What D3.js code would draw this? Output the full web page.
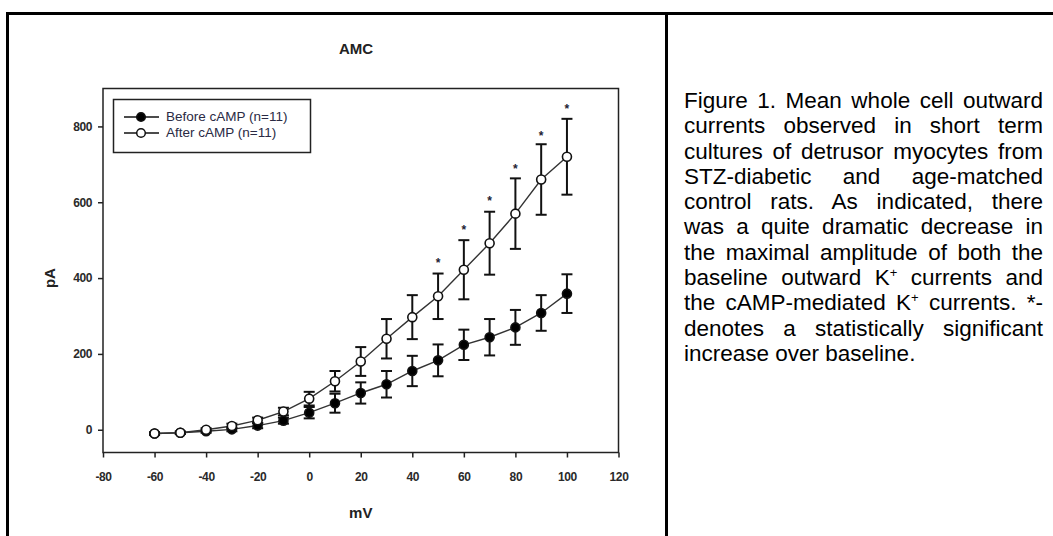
<!DOCTYPE html>
<html>
<head>
<meta charset="utf-8">
<script src="https://cdn.jsdelivr.net/npm/d3@7"></script>
<style>
  body { margin: 0; background: #fff; }
  #wrap { position: relative; width: 1053px; height: 536px; overflow: hidden; }
  #caption { position: absolute; left: 684px; top: 88px; width: 359px;
    font-family: "Liberation Sans", Arial, sans-serif; font-size: 22.5px; line-height: 25.3px; color: #000; }
  #caption div { text-align: justify; text-align-last: justify; white-space: nowrap; }
  #caption div.last { text-align-last: left; }
  #caption sup { font-size: 13px; line-height: 0; }
</style>
</head>
<body>
<div id="wrap"></div>
<script>
// membrane potential steps (mV)
const voltages = [-60, -50, -40, -30, -20, -10, 0, 10, 20, 30, 40, 50, 60, 70, 80, 90, 100];
// mean current (pA) and error
const before = [-10, -8, -4, 1, 11, 24, 45, 70, 97, 120, 155, 183, 224, 244, 270, 308, 359];
const beforeErr = [3, 3, 4, 5, 7, 8, 15, 25, 28, 35, 40, 42, 40, 48, 46, 47, 51];
const after = [-10, -8, 0, 10, 25, 48, 82, 128, 180, 240, 297, 352, 422, 492, 570, 660, 720];
const afterErr = [3, 3, 4, 6, 7, 10, 18, 27, 38, 52, 58, 60, 78, 83, 93, 93, 100];
// significance markers
const sigV = [50, 60, 70, 80, 90, 100];
const sigY = [446, 531, 609, 692, 781, 850];

const xTicks = [-80, -60, -40, -20, 0, 20, 40, 60, 80, 100, 120];
const yTicks = [0, 200, 400, 600, 800];
const seriesNames = ["Before cAMP (n=11)", "After cAMP (n=11)"];

const captionLines = [
  "Figure 1. Mean whole cell outward",
  "currents observed in short term",
  "cultures of detrusor myocytes from",
  "STZ-diabetic and age-matched",
  "control rats. As indicated, there",
  "was a quite dramatic decrease in",
  "the maximal amplitude of both the",
  "baseline outward K<sup>+</sup> currents and",
  "the cAMP-mediated K<sup>+</sup> currents. *-",
  "denotes a statistically significant",
  "increase over baseline."
];

const W = 1053, H = 536;
const wrap = d3.select("#wrap");
const svg = wrap.append("svg").attr("width", W).attr("height", H)
  .style("position", "absolute").style("left", 0).style("top", 0);

// outer frame
svg.append("line").attr("x1", 6).attr("x2", W).attr("y1", 13.5).attr("y2", 13.5)
  .attr("stroke", "#000").attr("stroke-width", 3);
svg.append("line").attr("x1", 7.5).attr("x2", 7.5).attr("y1", 12).attr("y2", H)
  .attr("stroke", "#000").attr("stroke-width", 3);
svg.append("line").attr("x1", 666.5).attr("x2", 666.5).attr("y1", 12).attr("y2", H)
  .attr("stroke", "#000").attr("stroke-width", 3);

const m = {left: 103, right: 618.5, top: 88.5, bottom: 452.5};
const x = d3.scaleLinear().domain([-80, 120]).range([m.left, m.right]);
const y = d3.scaleLinear().domain([-60, 900]).range([m.bottom, m.top]);

const font = "'Liberation Sans', Arial, sans-serif";

svg.append("text").attr("x", 356).attr("y", 54).attr("text-anchor", "middle")
  .attr("font-family", font).attr("font-weight", "bold").attr("font-size", 15)
  .attr("fill", "#222").text("AMC");

// plot frame
svg.append("rect").attr("x", m.left).attr("y", m.top)
  .attr("width", m.right - m.left).attr("height", m.bottom - m.top)
  .attr("fill", "none").attr("stroke", "#222").attr("stroke-width", 1.5);

const xAxis = svg.append("g").attr("transform", `translate(0,${m.bottom})`)
  .call(d3.axisBottom(x).tickValues(xTicks).tickFormat(d => String(d))
    .tickSize(5).tickPadding(15));
const yAxis = svg.append("g").attr("transform", `translate(${m.left},0)`)
  .call(d3.axisLeft(y).tickValues(yTicks).tickFormat(d => String(d))
    .tickSize(5).tickPadding(6));
[xAxis, yAxis].forEach(a => {
  a.select(".domain").remove();
  a.selectAll("line").attr("stroke", "#222").attr("stroke-width", 1.5);
  a.selectAll("text").attr("font-family", font).attr("font-weight", "bold")
    .attr("font-size", 12).attr("letter-spacing", -0.4).attr("fill", "#2a2a2a");
});

svg.append("text").attr("x", x(20)).attr("y", 518).attr("text-anchor", "middle")
  .attr("font-family", font).attr("font-weight", "bold").attr("font-size", 15)
  .attr("fill", "#222").text("mV");
svg.append("text").attr("transform", `translate(51,${y(400)}) rotate(-90)`)
  .attr("text-anchor", "middle").attr("dominant-baseline", "middle")
  .attr("font-family", font).attr("font-weight", "bold").attr("font-size", 15)
  .attr("fill", "#222").text("pA");

const line = d3.line().x(d => x(d[0])).y(d => y(d[1]));

function drawSeries(vals, errs, fill) {
  const pts = voltages.map((v, i) => [v, vals[i], errs[i]]);
  const g = svg.append("g");
  g.append("path").datum(pts).attr("d", line)
    .attr("fill", "none").attr("stroke", "#333").attr("stroke-width", 1.4);
  const eb = g.selectAll("g.eb").data(pts).join("g");
  eb.append("line").attr("x1", d => x(d[0])).attr("x2", d => x(d[0]))
    .attr("y1", d => y(d[1] - d[2])).attr("y2", d => y(d[1] + d[2]))
    .attr("stroke", "#111").attr("stroke-width", 2);
  [-1, 1].forEach(s => {
    eb.append("line").attr("x1", d => x(d[0]) - 5.5).attr("x2", d => x(d[0]) + 5.5)
      .attr("y1", d => y(d[1] + s * d[2])).attr("y2", d => y(d[1] + s * d[2]))
      .attr("stroke", "#111").attr("stroke-width", 2);
  });
  g.selectAll("circle").data(pts).join("circle")
    .attr("cx", d => x(d[0])).attr("cy", d => y(d[1])).attr("r", 4.5)
    .attr("fill", fill).attr("stroke", "#111").attr("stroke-width", 1.6);
}
drawSeries(before, beforeErr, "#000");
drawSeries(after, afterErr, "#fff");

svg.selectAll("text.sig").data(sigV).join("text").attr("class", "sig")
  .attr("x", d => x(d)).attr("y", (d, i) => y(sigY[i]) + 6)
  .attr("text-anchor", "middle").attr("font-family", font)
  .attr("font-weight", "bold").attr("font-size", 12).attr("fill", "#223").text("*");

// legend
const lg = svg.append("g");
lg.append("rect").attr("x", 113.5).attr("y", 99.5).attr("width", 197).attr("height", 53)
  .attr("fill", "#fff").attr("stroke", "#222").attr("stroke-width", 1.5);
seriesNames.forEach((name, i) => {
  const ly = 117 + i * 16;
  lg.append("line").attr("x1", 124).attr("x2", 159).attr("y1", ly).attr("y2", ly)
    .attr("stroke", "#111").attr("stroke-width", 1.5);
  lg.append("circle").attr("cx", 141).attr("cy", ly).attr("r", 4.3)
    .attr("fill", i === 0 ? "#000" : "#fff").attr("stroke", "#111").attr("stroke-width", 1.5);
  lg.append("text").attr("x", 166).attr("y", ly).attr("dominant-baseline", "middle")
    .attr("font-family", font).attr("font-size", 13.5).attr("fill", "#2a2a44").text(name);
});

// caption
const cap = wrap.append("div").attr("id", "caption");
cap.selectAll("div").data(captionLines).join("div")
  .attr("class", (d, i) => i === captionLines.length - 1 ? "last" : null)
  .html(d => d);
</script>
</body>
</html>
